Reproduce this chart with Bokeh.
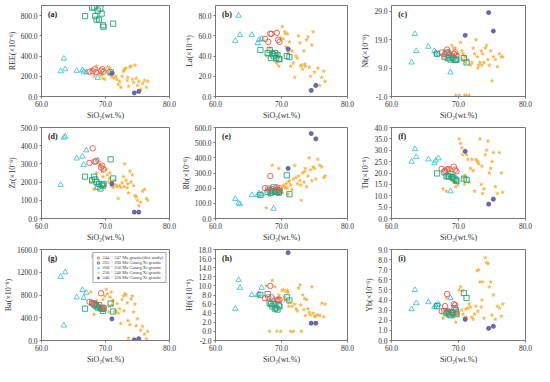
from bokeh.plotting import figure
from bokeh.layouts import gridplot
from bokeh.models import FixedTicker, NumeralTickFormatter, Label, Legend, LegendItem, Range1d
from bokeh.embed import file_html
from bokeh.resources import INLINE

# ---------------- data ----------------
red_sio2 = [67.5, 68.0, 68.3, 68.5, 69.3, 69.5, 69.7]
red_ree = [245, 250, 270, 240, 255, 270, 245]
red_la = [57, 54, 62, 62, 63, 56, 54]
red_nb = [14.5, 14.0, 15.5, 14.5, 14.0, 14.5, 13.5]
red_zr = [305, 385, 312, 315, 280, 290, 270]
red_rb = [200, 198, 280, 195, 205, 190, 200]
red_th = [21.8, 21.0, 21.5, 21.8, 22.8, 21.5, 20.8]
red_ba = [680, 660, 1480, 640, 830, 560, 580]
red_hf = [7.3, 7.5, 10.0, 7.5, 6.8, 7.0, 7.0]
red_yb = [2.9, 3.4, 4.6, 2.9, 3.6, 3.5, 2.8]

green_sio2 = [66.8, 67.9, 68.2, 68.4, 68.6, 68.8, 69.0, 69.2, 69.4, 69.6, 69.7, 70.8, 71.2]
green_ree = [795, 880, 880, 795, 760, 850, 760, 870, 820, 705, 690, 240, 720]
green_la = [46, 43, 46, 38, 42, 40, 43, 38, 41, 37, 37, 40, 39]
green_nb = [14.0, 13.0, 14.5, 12.5, 13.5, 12.0, 13.0, 12.5, 12.0, 11.8, 12.0, 12.5, 11.0]
green_zr = [230, 210, 230, 215, 200, 175, 190, 165, 185, 180, 190, 325, 220]
green_rb = [155, 175, 185, 170, 180, 205, 175, 185, 175, 170, 180, 285, 160]
green_th = [19.8, 20.3, 18.5, 18.8, 18.5, 19.5, 18.2, 18.0, 17.5, 17.0, 16.5, 17.5, 17.0]
green_ba = [560, 660, 640, 620, 600, 580, 620, 570, 560, 520, 560, 650, 510]
green_hf = [8.0, 8.2, 6.2, 6.0, 5.5, 6.0, 5.0, 5.2, 4.8, 5.8, 5.5, 7.5, 6.8]
green_yb = [3.4, 2.9, 2.7, 2.8, 2.6, 2.5, 2.8, 2.7, 3.2, 3.0, 2.6, 4.7, 4.2]

cyan_sio2 = [63.0, 63.5, 63.7, 65.5, 66.4, 66.6, 67.0, 68.8]
cyan_ree = [250, 375, 270, 255, 260, 245, 240, 185]
cyan_la = [55, 80, 61, 61, 53, 56, 57, 42]
cyan_nb = [11, 21, 15, 16.5, 15, 14.5, 14, 7.5]
cyan_zr = [185, 445, 450, 330, 340, 295, 375, 320]
cyan_rb = [130, 100, 95, 155, 155, 165, 160, 65]
cyan_th = [25, 30.5, 27, 26, 24.5, 25.5, 26.5, 12]
cyan_ba = [1120, 265, 1200, 760, 890, 750, 840, 600]
cyan_hf = [5.0, 11.3, 9.6, 8.0, 8.0, 8.2, 9.6, 7.0]
cyan_yb = [3.1, 5.0, 3.7, 3.8, 3.3, 3.5, 3.6, 4.2]

orange_sio2 = [67.7, 68.2, 68.6, 69.0, 69.3, 69.6, 69.9, 70.1, 70.3, 70.5,
               70.7, 70.9, 71.0, 71.2, 71.4, 71.6, 71.8, 72.0, 72.2, 72.4,
               72.6, 72.8, 73.0, 73.2, 73.4, 73.6, 73.8, 74.0, 74.2, 74.4,
               74.6, 74.8, 75.0, 75.2, 75.5, 75.8, 76.1, 76.4, 76.6, 69.5,
               70.6, 71.1, 72.9, 73.5]
orange_ree = [260, 200, 300, 230, 210, 180, 170, 250, 290, 220,
              260, 200, 240, 230, 180, 200, 170, 120, 150, 90,
              200, 250, 270, 280, 160, 100, 290, 300, 170, 140,
              310, 180, 110, 150, 70, 130, 160, 90, 150, 220,
              280, 190, 260, 190]
orange_la = [40, 48, 45, 35, 33, 30, 58, 69, 57, 64,
             49, 62, 44, 54, 30, 45, 33, 19, 40, 38,
             60, 53, 31, 27, 45, 30, 56, 59, 29, 20,
             51, 64, 24, 10, 28, 11, 19, 25, 15, 42,
             62, 47, 30, 32]
orange_nb = [13, 12, 15, 17, 16, -0.6, 14, -0.6, 18, 15,
             14, -0.6, 13, -0.6, 12, -0.6, 10, 11, 16, 14,
             19, 13, 10, 11, 15, 14, 11, 16, 17, 12,
             10, 15, 4.5, 13, 12, 9.5, 14, 13, 13, 16,
             12, 11, 9, 10]
orange_zr = [200, 160, 250, 300, 290, 230, 180, 270, 240, 200,
             250, 190, 180, 170, 210, 185, 175, 110, 180, 170,
             195, 230, 300, 210, 170, 140, 260, 200, 240, 180,
             125, 120, 100, 70, 90, 150, 160, 110, 100, 260,
             220, 200, 175, 190]
orange_rb = [70, 150, 350, 185, 200, 330, 180, 170, 220, 210,
             230, 200, 160, 250, 220, 190, 260, 350, 270, 230,
             280, 250, 120, 300, 240, 330, 210, 280, 400, 320,
             250, 340, 330, 260, 390, 350, 340, 270, 280, 160,
             200, 240, 220, 310]
orange_th = [13, 12, 22, 17, 16, 14, 15, 35, 33, 31,
             18, 15, 19, 28, 26, 16, 22, 26, 21, 12,
             26, 25, 24, 35, 15, 11, 13, 28, 30, 34,
             20, 22, 25, 29, 14, 11, 29, 20, 11.5, 16,
             28, 18, 25, 23]
orange_ba = [850, 460, 700, 560, 610, 720, 780, 900, 820, 500,
             760, 850, 620, 700, 500, 520, 650, 480, 560, 300,
             720, 780, 820, 800, 660, 40, 280, 730, 780, 500,
             640, 260, 380, 40, 180, 250, 110, 30, 160, 560,
             600, 700, 520, 350]
orange_hf = [10.0, 0.0, 11.2, 9.8, 0.0, 8.0, 0.0, 9.0, 9.2, 7.5,
             8.8, 9.0, 8.6, 6.5, 0.0, 5.5, 0.0, 6.0, 5.0, 4.5,
             9.5, 10.2, 0.0, 8.0, 4.8, 3.5, 7.0, 5.0, 4.2, 3.6,
             9.8, 4.0, 3.2, 3.4, 3.6, 3.5, 6.2, 3.2, 6.0, 7.2,
             6.8, 5.5, 5.8, 7.2]
orange_yb = [2.2, 4.2, 2.8, 2.5, 2.3, 1.8, 2.5, 5.0, 5.3, 3.0,
             2.6, 2.2, 2.0, 2.3, 3.2, 3.6, 3.3, 2.3, 2.1, 2.6,
             3.4, 6.9, 7.0, 5.8, 3.3, 5.8, 2.2, 8.2, 7.7, 7.6,
             5.3, 5.8, 2.5, 4.5, 2.1, 3.4, 3.2, 2.4, 3.6, 2.6,
             4.9, 3.1, 2.9, 4.0]

purple_sio2 = [71.0, 74.5, 75.2]
purple_ree = [230, 35, 50]
purple_la = [47, 6, 11]
purple_nb = [20.5, 28.5, 22]
purple_zr = [190, 35, 35]
purple_rb = [330, 560, 525]
purple_th = [29.5, 6.3, 8.5]
purple_ba = [380, 10, 30]
purple_hf = [17.3, 1.8, 1.8]
purple_yb = [2.1, 1.2, 1.4]

series_labels = ["244 ~ 247 Ma granite(this study)",
                 "265 ~ 260 Ma Guang Xi granite",
                 "260 ~ 250 Ma Guang Xi granite",
                 "250 ~ 240 Ma Guang Xi granite",
                 "240 ~ 220 Ma Guang Xi granite"]

x_ticks = [60, 70, 80]

panels = [
    ("(a)", "REE(×10⁻⁶)", (0, 900), [0, 200, 400, 600, 800],
     red_ree, green_ree, cyan_ree, orange_ree, purple_ree),
    ("(b)", "La(×10⁻⁶)", (0, 90), [0, 20, 40, 60, 80],
     red_la, green_la, cyan_la, orange_la, purple_la),
    ("(c)", "Nb(×10⁻⁶)", (-1, 31), [-1, 9, 19, 29],
     red_nb, green_nb, cyan_nb, orange_nb, purple_nb),
    ("(d)", "Zr(×10⁻⁶)", (0, 500), [0, 100, 200, 300, 400, 500],
     red_zr, green_zr, cyan_zr, orange_zr, purple_zr),
    ("(e)", "Rb(×10⁻⁶)", (0, 600), [0, 100, 200, 300, 400, 500, 600],
     red_rb, green_rb, cyan_rb, orange_rb, purple_rb),
    ("(f)", "Th(×10⁻⁶)", (0, 40), [0, 5, 10, 15, 20, 25, 30, 35, 40],
     red_th, green_th, cyan_th, orange_th, purple_th),
    ("(g)", "Ba(×10⁻⁶)", (0, 1600), [0, 400, 800, 1200, 1600],
     red_ba, green_ba, cyan_ba, orange_ba, purple_ba),
    ("(h)", "Hf(×10⁻⁶)", (-2, 18), [-2, 0, 2, 4, 6, 8, 10, 12, 14, 16, 18],
     red_hf, green_hf, cyan_hf, orange_hf, purple_hf),
    ("(i)", "Yb(×10⁻⁶)", (0, 9), [0, 1, 2, 3, 4, 5, 6, 7, 8, 9],
     red_yb, green_yb, cyan_yb, orange_yb, purple_yb),
]

RED = "#e8534b"
GREEN = "#23a37c"
CYAN = "#46c2d6"
ORANGE = "#f6b140"
PURPLE = "#6b6bb5"
FONT = "Liberation Serif"

figs = []
for i, (letter, ylabel, yr, yt, ry, gy, cy, oy, py) in enumerate(panels):
    p = figure(width=178, height=122, x_range=Range1d(60, 80), y_range=Range1d(*yr),
               output_backend="svg", toolbar_location=None,
               min_border_left=35, min_border_right=9, min_border_top=5, min_border_bottom=4)
    p.xgrid.visible = False
    p.ygrid.visible = False
    p.outline_line_color = "#777777"
    p.outline_line_width = 1
    p.background_fill_color = "white"
    p.border_fill_color = "white"

    for ax, ticks in ((p.xaxis[0], x_ticks), (p.yaxis[0], yt)):
        ax.ticker = FixedTicker(ticks=ticks)
        ax.formatter = NumeralTickFormatter(format="0.0")
        ax.major_label_text_font = FONT
        ax.major_label_text_font_size = "7.5px"
        ax.major_label_text_color = "#333333"
        ax.axis_label_text_font = FONT
        ax.axis_label_text_font_size = "8px"
        ax.axis_label_text_font_style = "normal"
        ax.axis_label_text_color = "#333333"
        ax.axis_line_color = "#777777"
        ax.major_tick_line_color = "#777777"
        ax.minor_tick_line_color = None
        ax.major_tick_out = 2
        ax.major_tick_in = 0
        ax.major_label_standoff = 2
        ax.axis_label_standoff = 1
    p.xaxis.axis_label = "SiO₂(wt.%)"
    p.yaxis.axis_label = ylabel

    ro = p.scatter(orange_sio2, oy, marker="star", size=4.2, fill_color=ORANGE,
                   line_color=ORANGE, line_width=0.3)
    rc = p.scatter(cyan_sio2, cy, marker="triangle", size=5.5, fill_color=None,
                   line_color=CYAN, line_width=0.9)
    rg = p.scatter(green_sio2, gy, marker="square", size=5.2, fill_color=None,
                   line_color=GREEN, line_width=0.9)
    rr = p.scatter(red_sio2, ry, marker="circle", size=5.5, fill_color=None,
                   line_color=RED, line_width=0.9)
    rp = p.scatter(purple_sio2, py, marker="circle", size=4.2, fill_color=PURPLE,
                   line_color="#4a4a90", line_width=0.6)

    ytop = yr[1] - (yr[1] - yr[0]) * 0.05
    p.add_layout(Label(x=61.0, y=ytop, text=letter, text_font=FONT,
                       text_font_size="8px", text_font_style="bold",
                       text_baseline="top", text_color="#222222"))

    if letter == "(g)":
        items = [LegendItem(label=series_labels[0], renderers=[rr]),
                 LegendItem(label=series_labels[1], renderers=[rg]),
                 LegendItem(label=series_labels[2], renderers=[rc]),
                 LegendItem(label=series_labels[3], renderers=[ro]),
                 LegendItem(label=series_labels[4], renderers=[rp])]
        leg = Legend(items=items, location="top_right")
        leg.label_text_font = FONT
        leg.label_text_font_size = "4.6px"
        leg.label_height = 5
        leg.glyph_height = 5
        leg.glyph_width = 5
        leg.label_standoff = 2
        leg.spacing = 0
        leg.padding = 2
        leg.margin = 3
        leg.border_line_color = "#555555"
        leg.border_line_width = 0.6
        leg.background_fill_alpha = 1.0
        p.add_layout(leg)
    figs.append(p)

grid = gridplot(figs, ncols=3, toolbar_location=None)

open("out.html", "w").write(file_html(grid, INLINE))
